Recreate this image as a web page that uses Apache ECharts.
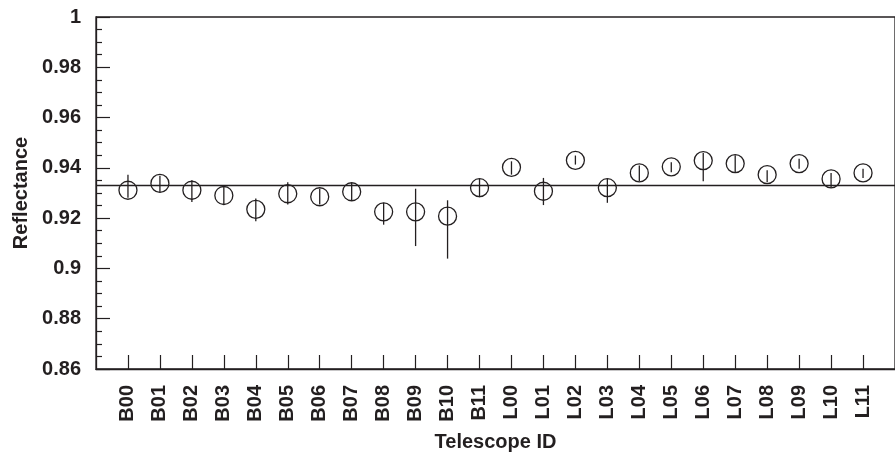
<!DOCTYPE html>
<html>
<head>
<meta charset="utf-8">
<script src="https://cdn.jsdelivr.net/npm/echarts@6/dist/echarts.min.js"></script>
<style>
  html, body { margin: 0; padding: 0; background: #fff; }
  #chart { width: 895px; height: 457px; }
</style>
</head>
<body>
<div id="chart"></div>
<script>
// telescope ids along the bottom
var categories = ['B00', 'B01', 'B02', 'B03', 'B04', 'B05', 'B06', 'B07', 'B08', 'B09', 'B10', 'B11',
                  'L00', 'L01', 'L02', 'L03', 'L04', 'L05', 'L06', 'L07', 'L08', 'L09', 'L10', 'L11'];
// measured reflectance (circle centres)
var reflectance = [0.9311, 0.9338, 0.9311, 0.9290, 0.9235, 0.9297, 0.9285, 0.9305, 0.9225, 0.9225, 0.9208, 0.9321,
                   0.9402, 0.9307, 0.9430, 0.9321, 0.9380, 0.9404, 0.9429, 0.9417, 0.9373, 0.9417, 0.9356, 0.9380];
// error bar ends
var errHigh = [0.9373, 0.9369, 0.9351, 0.9327, 0.9278, 0.9343, 0.9317, 0.9340, 0.9261, 0.9317, 0.9271, 0.9356,
               0.9426, 0.9360, 0.9449, 0.9356, 0.9409, 0.9422, 0.9459, 0.9450, 0.9390, 0.9436, 0.9380, 0.9396];
var errLow = [0.9281, 0.9303, 0.9264, 0.9254, 0.9188, 0.9254, 0.9254, 0.9269, 0.9174, 0.9089, 0.9039, 0.9283,
              0.9373, 0.9252, 0.9413, 0.9261, 0.9347, 0.9383, 0.9347, 0.9383, 0.9343, 0.9396, 0.9321, 0.9360];
// mean reflectance line
var meanLine = 0.9332;
// y axis ticks
var yMin = 0.86, yMax = 1, yStep = 0.02;

var ink = '#231f20';
var font = '"Liberation Sans", Arial, sans-serif';

var points = reflectance.map(function (v, i) { return [i, v]; });
var bars = reflectance.map(function (v, i) { return [i, errHigh[i], errLow[i]]; });

var myChart = echarts.init(document.getElementById('chart'));
var option = {
  animation: false,
  grid: {
    left: 96, top: 17, right: -9, bottom: 87,
    show: true, borderColor: ink, borderWidth: 1.3, backgroundColor: 'transparent'
  },
  xAxis: {
    type: 'value',
    min: -1, max: 24, interval: 1,
    name: 'Telescope ID',
    nameLocation: 'middle',
    nameGap: 63,
    nameTextStyle: { color: ink, fontFamily: font, fontWeight: 'bold', fontSize: 20 },
    axisLine: { onZero: false, lineStyle: { color: ink, width: 1.3 } },
    axisTick: { inside: true, length: 14, lineStyle: { color: ink, width: 1.2 } },
    splitLine: { show: false },
    axisLabel: {
      rotate: 90,
      margin: 16,
      color: ink, fontFamily: font, fontWeight: 'bold', fontSize: 20,
      showMinLabel: false, showMaxLabel: false,
      formatter: function (v) { return categories[v] || ''; }
    }
  },
  yAxis: {
    type: 'value',
    min: yMin, max: yMax, interval: yStep,
    name: 'Reflectance',
    nameLocation: 'middle',
    nameGap: 65,
    nameTextStyle: { color: ink, fontFamily: font, fontWeight: 'bold', fontSize: 20 },
    axisLine: { show: true, onZero: false, lineStyle: { color: ink, width: 1.3 } },
    axisTick: { show: true, inside: true, length: 14, lineStyle: { color: ink, width: 1.2 } },
    minorTick: { show: true, splitNumber: 4, length: 6, lineStyle: { color: ink, width: 1.2 } },
    splitLine: { show: false },
    axisLabel: {
      margin: 15,
      color: ink, fontFamily: font, fontWeight: 'bold', fontSize: 20
    }
  },
  series: [
    {
      type: 'custom',
      data: bars,
      encode: { x: 0, y: [1, 2] },
      renderItem: function (params, api) {
        var x = api.value(0);
        var hi = api.coord([x, api.value(1)]);
        var lo = api.coord([x, api.value(2)]);
        return {
          type: 'line',
          shape: { x1: hi[0], y1: hi[1], x2: lo[0], y2: lo[1] },
          style: { stroke: ink, lineWidth: 1.3 }
        };
      },
      silent: true,
      z: 3
    },
    {
      type: 'scatter',
      data: points,
      symbol: 'circle',
      symbolSize: 18,
      itemStyle: { color: 'rgba(0,0,0,0)', borderColor: ink, borderWidth: 1.3, opacity: 1 },
      markLine: {
        silent: true,
        symbol: 'none',
        precision: 4,
        label: { show: false },
        lineStyle: { color: ink, width: 1.3, type: 'solid' },
        data: [{ yAxis: meanLine }]
      },
      z: 4
    }
  ]
};
myChart.setOption(option);
</script>
</body>
</html>
